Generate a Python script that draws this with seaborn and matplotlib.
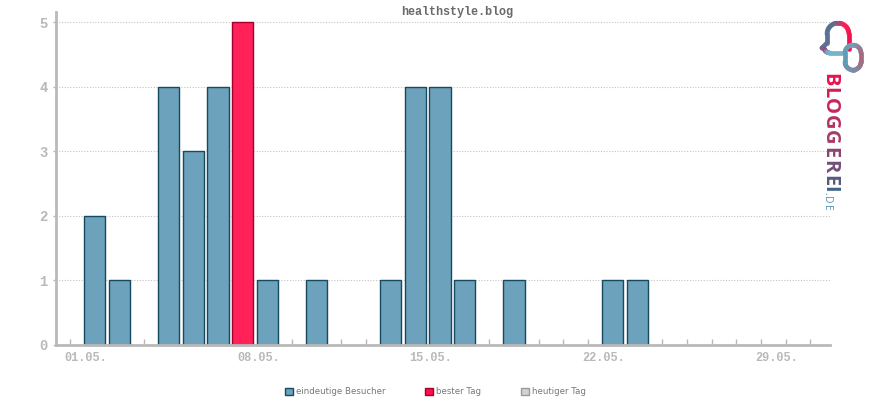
import numpy as np
import pandas as pd
import matplotlib
matplotlib.use("Agg")
import matplotlib.pyplot as plt
import seaborn as sns
from matplotlib.collections import LineCollection
from matplotlib.colors import LinearSegmentedColormap
from matplotlib.patches import Patch
from matplotlib.transforms import ScaledTranslation

days = [1, 2, 4, 5, 6, 7, 8, 10, 13, 14, 15, 16, 18, 22, 23]
visitors = [2, 1, 4, 3, 4, 5, 1, 1, 1, 4, 4, 1, 1, 1, 1]
best_day = 7
tick_days = list(range(0, 31))
labelled = {1: "01.05.", 8: "08.05.", 15: "15.05.", 22: "22.05.", 29: "29.05."}
y_ticks = [0, 1, 2, 3, 4, 5]
legend_labels = ["eindeutige Besucher", "bester Tag", "heutiger Tag"]
logo_letters = ["B", "L", "O", "G", "G", "E", "R", "E", "I"]
logo_letter_y = [80, 92.5, 106.5, 122, 137.5, 153, 166.5, 181, 189]
logo_domain = [".", "D", "E"]
logo_domain_y = [193, 200, 207.5]

W, H = 870, 400
GREY = "#b9b9b9"
BLUE, BLUE_EDGE = "#6ca2bb", "#164a5e"
RED, RED_EDGE = "#ff2158", "#a3002e"

sns.set_style("white")
plt.rcParams["font.family"] = ["Liberation Mono", "DejaVu Sans Mono"]

df = pd.DataFrame({"day": days, "visitors": visitors})
df["kind"] = ["best" if d == best_day else "normal" for d in days]

fig = plt.figure(figsize=(W / 100, H / 100), dpi=100)
ax = fig.add_axes([56 / W, 1 - 345 / H, (830 - 56) / W, (345 - 12) / H])

sns.barplot(data=df, x="day", y="visitors", hue="kind", dodge=False, native_scale=True,
            palette={"normal": BLUE, "best": RED}, width=0.86, saturation=1, legend=False, ax=ax)
for bar, d in zip(sorted(ax.patches, key=lambda p: p.get_x()), days):
    bar.set_edgecolor(RED_EDGE if d == best_day else BLUE_EDGE)
    bar.set_linewidth(1.0)
    bar.set_clip_on(False)

ax.set_xlim(-0.56, 30.80)
ax.set_ylim(0, 5.155)
ax.set_xlabel("")
ax.set_ylabel("")
ax.set_xticks(tick_days)
ax.set_xticklabels([labelled.get(d, "") for d in tick_days])
ax.set_yticks(y_ticks)
ax.tick_params(axis="x", direction="in", length=4, width=1, color=GREY, labelcolor=GREY,
               labelsize=8.6, pad=5, bottom=True)
ax.tick_params(axis="y", direction="out", length=2, width=1, color=GREY, labelcolor=GREY,
               labelsize=10, pad=4, left=True)
for lab in ax.get_xticklabels() + ax.get_yticklabels():
    lab.set_fontweight("bold")
shift = ScaledTranslation(-9 / 100, 0, fig.dpi_scale_trans)
for lab in ax.get_xticklabels():
    lab.set_transform(lab.get_transform() + shift)

ax.set_axisbelow(True)
ax.grid(axis="y", linestyle=(0, (1, 1.5)), linewidth=0.8, color="#c4c4c4")
ax.grid(axis="x", visible=False)
sns.despine(ax=ax)
for side in ["left", "bottom"]:
    ax.spines[side].set_color(GREY)
    ax.spines[side].set_linewidth(2.0)

fig.text(457.5 / W, 1 - 12 / H, "healthstyle.blog", ha="center", va="center",
         fontsize=8.5, fontweight="bold", color="#6a6a6a")

handles = [Patch(facecolor=BLUE, edgecolor=BLUE_EDGE),
           Patch(facecolor="#ff0f4b", edgecolor=RED_EDGE),
           Patch(facecolor="#d2d2d2", edgecolor="#9a9a9a")]
fig.legend(handles, legend_labels, loc="center", bbox_to_anchor=(435.5 / W, 1 - 392 / H), ncols=3,
           frameon=False, prop={"family": "DejaVu Sans", "size": 6.2}, labelcolor="#777777",
           handlelength=0.95, handleheight=0.95, handletextpad=0.35, columnspacing=4.6,
           borderpad=0, borderaxespad=0)

# logo, drawn in pixel coordinates on a see-through overlay
logo = fig.add_axes([0, 0, 1, 1], facecolor="none")
logo.set_xlim(0, W)
logo.set_ylim(H, 0)
logo.axis("off")


def arc(cx, cy, r, a0, a1):
    t = np.radians(np.linspace(a0, a1, 14))
    return np.column_stack([cx + r * np.cos(t), cy + r * np.sin(t)])


def gradient_line(points, colors):
    seg = np.stack([points[:-1], points[1:]], axis=1)
    cmap = LinearSegmentedColormap.from_list("logo", colors)
    lc = LineCollection(seg, colors=cmap(np.linspace(0, 1, len(seg))), linewidth=3.4, capstyle="round")
    logo.add_collection(lc)


bubble = np.vstack([[[849, 49]], arc(838, 34, 11, 0, -180), [[827, 43]], [[822, 48]],
                    arc(830, 47, 6, 160, 90), [[842, 53]]])
gradient_line(bubble, ["#f0134f", "#ff1f55", "#4f7492", "#5f6f96", "#a8446f", "#6aa5bf", "#78b2c6"])
ring = np.vstack([arc(853, 53, 8, -180, 0), arc(853, 62, 8, 0, 180), [[845, 53]]])
gradient_line(ring, ["#5f9cb8", "#7a9db5", "#a8677f", "#7f8aa5", "#5f9cb8"])

cmap = LinearSegmentedColormap.from_list("word", ["#e8124f", "#a63a68", "#3f6388"])
for i, (ch, y) in enumerate(zip(logo_letters, logo_letter_y)):
    logo.text(829.5, y, ch, rotation=270, ha="center", va="center", rotation_mode="anchor",
              family="Open Sans", fontweight="bold", fontsize=14.5, color=cmap(i / (len(logo_letters) - 1)))
for ch, y in zip(logo_domain, logo_domain_y):
    logo.text(827, y, ch, rotation=270, ha="center", va="center", rotation_mode="anchor",
              family="Open Sans", fontsize=7.5, color="#5b94b0")

fig.savefig("out.png", dpi=100)
